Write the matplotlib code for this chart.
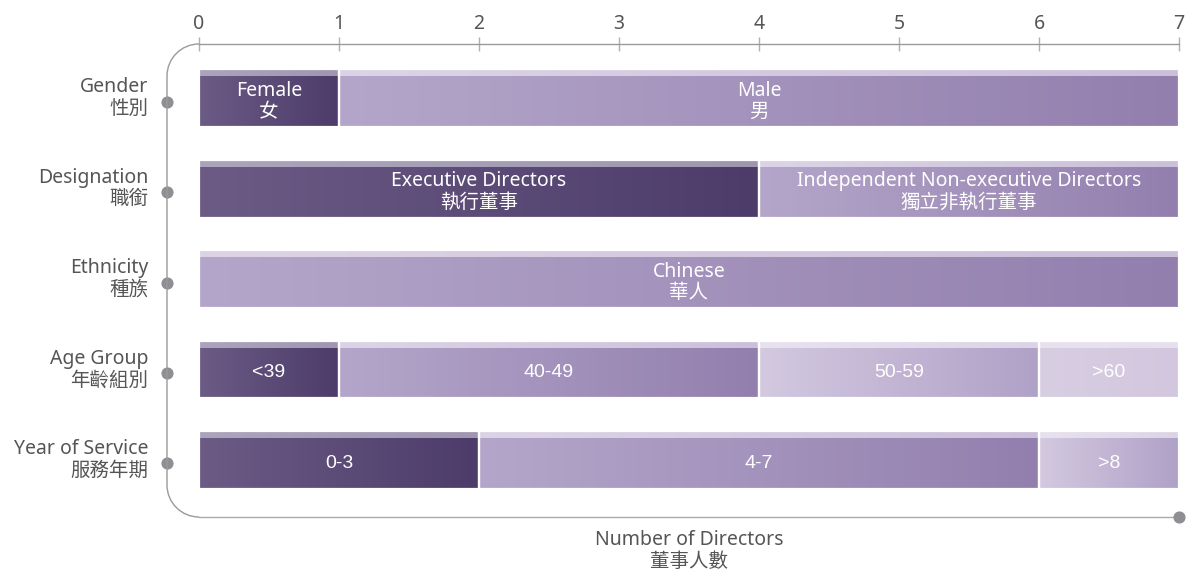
import numpy as np
import matplotlib
matplotlib.use("Agg")
import matplotlib.pyplot as plt
import matplotlib.path as mpath
import matplotlib.patches as mpatches
from matplotlib.transforms import IdentityTransform, blended_transform_factory
from matplotlib.colors import LinearSegmentedColormap

plt.rcParams['font.family'] = ['Noto Sans', 'Noto Sans CJK TC', 'DejaVu Sans']
ARIAL = ['Liberation Sans', 'DejaVu Sans']

categories = ["Gender\n性別", "Designation\n職銜", "Ethnicity\n種族",
              "Age Group\n年齡組別", "Year of Service\n服務年期"]

gender_labels = ["Female\n女", "Male\n男"]
gender_counts = [1, 6]
designation_labels = ["Executive Directors\n執行董事",
                      "Independent Non-executive Directors\n獨立非執行董事"]
designation_counts = [4, 3]
ethnicity_labels = ["Chinese\n華人"]
ethnicity_counts = [7]
age_labels = ["<39", "40-49", "50-59", ">60"]
age_counts = [1, 3, 2, 1]
service_labels = ["0-3", "4-7", ">8"]
service_counts = [2, 4, 1]

rows = [
    (gender_labels, gender_counts, ["dark", "mid"]),
    (designation_labels, designation_counts, ["dark", "mid"]),
    (ethnicity_labels, ethnicity_counts, ["mid"]),
    (age_labels, age_counts, ["dark", "mid", "light", "pale"]),
    (service_labels, service_counts, ["dark", "mid", "light"]),
]

# (main left, main right, strip left, strip right)
tones = {
    "dark": ("#6b5b85", "#4d3c6a", "#aca4bc", "#a096b0"),
    "mid": ("#b4a6ca", "#937fae", "#dcd4e6", "#cbc0da"),
    "light": ("#d3c9e0", "#b0a1c7", "#e8e2ef", "#dcd4e6"),
    "pale": ("#d8cee2", "#d2c7de", "#e8e2ef", "#e6e0ee"),
}

W, H = 1186, 572
fig = plt.figure(figsize=(W / 100, H / 100), dpi=100)
ax = fig.add_axes([199 / W, (H - 517) / H, 980 / W, 473 / H])

bar_h = 58 / 90.5
strip = 7 / 90.5
grad = np.linspace(0, 1, 256).reshape(1, -1)

for i, (labels, counts, tl) in enumerate(rows):
    left = 0
    for lab, c, t in zip(labels, counts, tl):
        m0, m1, s0, s1 = tones[t]
        ax.barh(i, c, left=left, height=bar_h, facecolor="none",
                edgecolor="white", linewidth=1.6, zorder=4)
        top = i - bar_h / 2
        bot = i + bar_h / 2
        cm_main = LinearSegmentedColormap.from_list("m", [m0, m1])
        cm_strip = LinearSegmentedColormap.from_list("s", [s0, s1])
        ax.imshow(grad, cmap=cm_main, aspect="auto",
                  extent=[left, left + c, bot, top + strip], zorder=2)
        ax.imshow(grad, cmap=cm_strip, aspect="auto",
                  extent=[left, left + c, top + strip, top], zorder=2)
        if "\n" in lab:
            ax.text(left + c / 2, i + strip / 2, lab, ha="center", va="center",
                    color="white", fontsize=14, linespacing=1.1, zorder=5)
        else:
            ax.text(left + c / 2, i + strip / 2, lab, ha="center", va="center",
                    color="white", fontsize=14, family=ARIAL, zorder=5)
        left += c

ax.set_xlim(0, 7)
ax.set_ylim(4.630, -0.597)
ax.set_aspect("auto")

ax.xaxis.tick_top()
ax.set_xticks(range(8))
ax.tick_params(axis="x", direction="inout", length=10, width=1, color="#b0b0b0",
               labelsize=14, labelcolor="#555555", pad=2)
ax.set_yticks([])
for s in ["left", "right"]:
    ax.spines[s].set_visible(False)
ax.spines["top"].set_color("#9a9a9a")
ax.spines["bottom"].set_color("#aaaaaa")
ax.spines["top"].set_linewidth(1)
ax.spines["bottom"].set_linewidth(1)

# rounded bracket on the left (pixel coords)
xv, r, yt, yb, x0 = 167, 32, 44, 517, 199
k = 0.5523 * r
pts = [(x0, yt), (x0 - k, yt), (xv, yt + r - k), (xv, yt + r),
       (xv, yb - r), (xv, yb - r + k), (x0 - k, yb), (x0, yb)]
codes = [mpath.Path.MOVETO, mpath.Path.CURVE4, mpath.Path.CURVE4, mpath.Path.CURVE4,
         mpath.Path.LINETO, mpath.Path.CURVE4, mpath.Path.CURVE4, mpath.Path.CURVE4]
pts = [(x, H - y) for x, y in pts]
fig.add_artist(mpatches.PathPatch(mpath.Path(pts, codes), facecolor="none",
                                  edgecolor="#9a9a9a", linewidth=1,
                                  transform=IdentityTransform()))

# dots and category labels
tr = blended_transform_factory(IdentityTransform(), ax.transData)
ys = [i + strip / 2 for i in range(len(categories))]
ax.scatter([xv] * len(ys), ys, s=60, color="#8e8e93", transform=tr,
           clip_on=False, zorder=6)
ax.scatter([7], [ax.get_ylim()[0]], s=60, color="#8e8e93", clip_on=False, zorder=6)
for i, cat in enumerate(categories):
    ax.text(148, i, cat, transform=tr, ha="right", va="center", fontsize=14,
            color="#555555", linespacing=1.1)

fig.text(689 / W, 1 - 551 / H, "Number of Directors\n董事人數", ha="center",
         va="center", fontsize=14, color="#555555", linespacing=1.1)

fig.savefig("out.png", dpi=100, facecolor="white")
